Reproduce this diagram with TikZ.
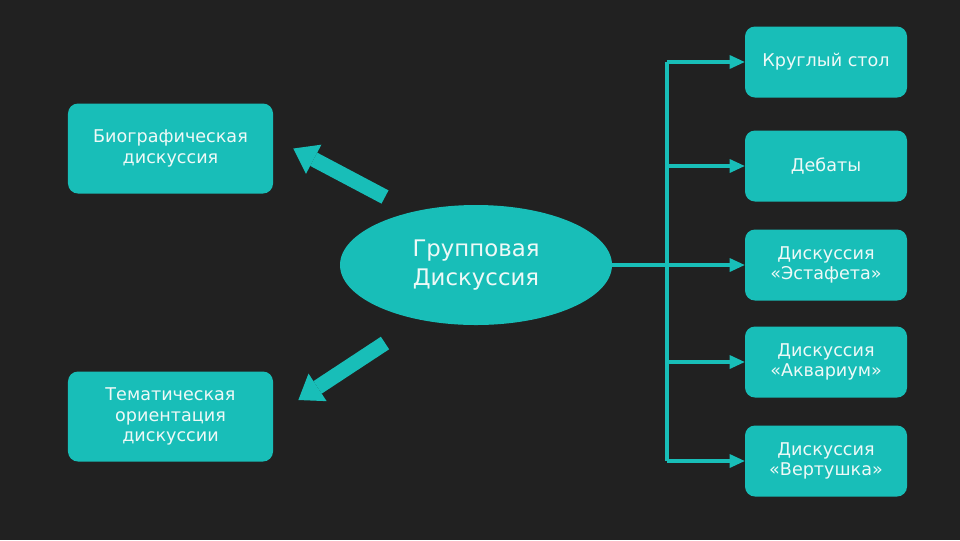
\documentclass[tikz,border=0pt]{standalone}
\usepackage{fontspec}
\setmainfont{DejaVu Sans}
\usepackage{xcolor}
\usepackage{tikz}
\usetikzlibrary{calc,arrows.meta,shapes.geometric,positioning}
\definecolor{bgdark}{RGB}{33,33,33}
\definecolor{tealbox}{RGB}{24,190,184}
\definecolor{inkw}{RGB}{238,249,247}
\tikzset{
  discbox/.style  = {rectangle, rounded corners=2mm, fill=tealbox, draw=none,
                     text=inkw, align=center, inner sep=0pt,
                     font=\fontsize{10}{11.5}\selectfont},
  sidebox/.style  = {discbox, minimum width=41mm, minimum height=18mm},
  formbox/.style  = {discbox, minimum width=32.4mm, minimum height=14.2mm},
  hub/.style      = {ellipse, fill=tealbox, draw=none, text=inkw, align=center,
                     inner sep=0pt, minimum width=54.4mm, minimum height=24mm,
                     font=\fontsize{13}{17}\selectfont},
  trunk/.style    = {draw=tealbox, line width=0.8mm},
  link/.style     = {trunk, -{Triangle[length=3mm,width=2.8mm,line width=0pt]}},
  bigarrow/.style = {draw=tealbox, line width=3mm,
                     -{Triangle[length=4.6mm,width=6.6mm,line width=0pt]}},
}
\begin{document}
\begin{tikzpicture}[x=0.2mm, y=-0.2mm]
\fill[bgdark] (0,0) rectangle (960,540);
\useasboundingbox (0,0) rectangle (960,540);

\node[hub] (grp) at (476,265) {Групповая\\Дискуссия};

\node[sidebox] (bio)  at (170.5,148.5) {Биографическая\\дискуссия};
\node[sidebox] (tema) at (170.5,416.5) {Тематическая\\ориентация\\дискуссии};

\node[formbox] (kr)  at (826,62)  {Круглый стол};
\node[formbox] (deb) at (826,166) {Дебаты};
\node[formbox] (est) at (826,265) {Дискуссия\\«Эстафета»};
\node[formbox] (akv) at (826,362) {Дискуссия\\«Аквариум»};
\node[formbox] (vrt) at (826,461) {Дискуссия\\«Вертушка»};

\coordinate (bus) at (667,265);
\draw[trunk] (kr.west -| bus) -- (vrt.west -| bus);
\draw[link] (grp) -- (est);
\foreach \b in {kr,deb,akv,vrt}
  \draw[link] (\b.west -| bus) -- (\b.west);

\coordinate (tail1) at (385,197);
\coordinate (tail2) at (385,343);
\draw[bigarrow] (tail1) -- ([xshift=4mm]bio.east);
\draw[bigarrow] (tail2) -- ([shift={(5mm,3.3mm)}]tema.east);
\end{tikzpicture}
\end{document}
